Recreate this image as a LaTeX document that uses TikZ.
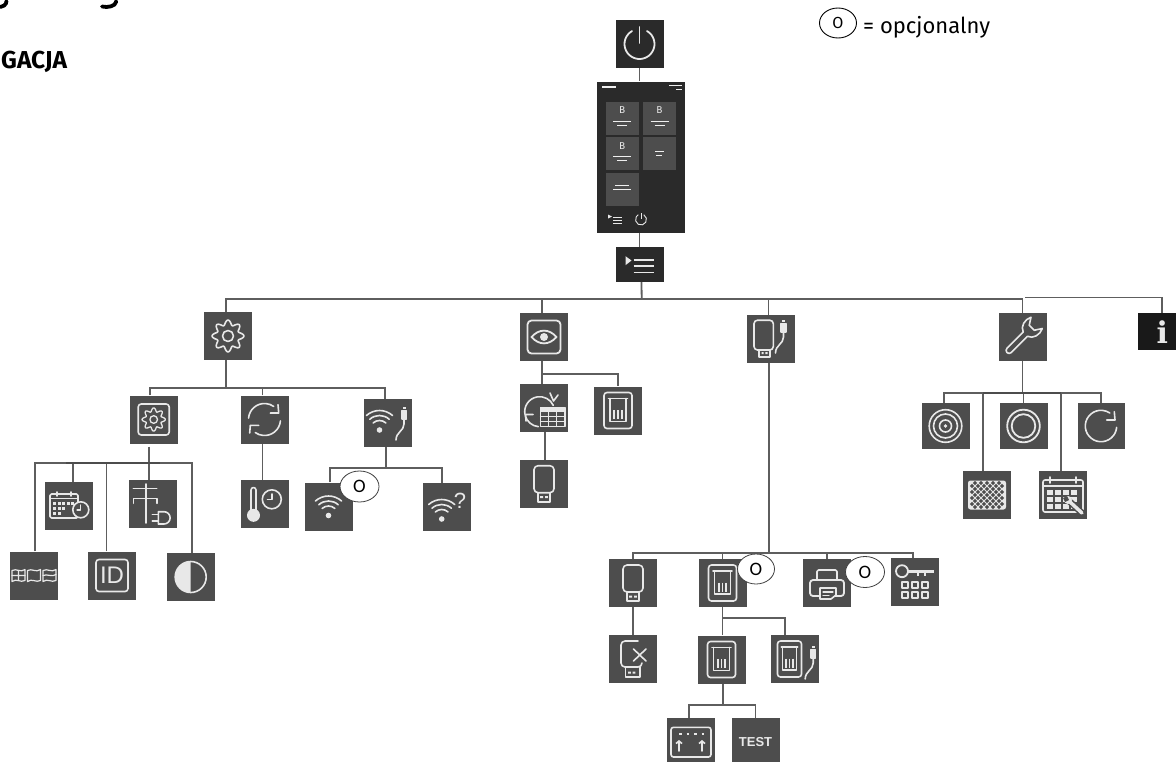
\documentclass[tikz,border=0pt]{standalone}
\usepackage{fontspec}
\setmainfont{Fira Sans}
\newfontfamily\arialfont{Liberation Sans}
\newfontfamily\slabfont{DejaVu Serif}
\newfontfamily\bubblefont{Carlito}
\usetikzlibrary{arrows.meta,shapes.geometric}
\definecolor{boxgray}{HTML}{4D4D4D}
\definecolor{boxdark}{HTML}{2A2A2A}
\definecolor{iconwhite}{HTML}{E8E8E8}
\definecolor{edgegray}{HTML}{5E5E5E}
\tikzset{
	icon_line/.style={draw=iconwhite,line width=1.6pt,line join=round,line cap=round},
	icon_fill/.style={fill=iconwhite,draw=none},
	icon_gear/.pic={
		\draw[icon_line,domain=0:360,samples=145,variable=\t] plot ({(13.5+2.4*cos(8*\t))*cos(\t)},{(13.5+2.4*cos(8*\t))*sin(\t)}) -- cycle;
		\draw[icon_line] (0,0) circle (5.5);
	},
	icon_gearbox/.pic={
		\draw[icon_line,rounded corners=3pt] (-15.5,-15.5) rectangle (15.5,15.5);
		\draw[icon_line,line width=1.3pt,domain=0:360,samples=145,variable=\t] plot ({(9.8+1.8*cos(8*\t))*cos(\t)},{(9.8+1.8*cos(8*\t))*sin(\t)}) -- cycle;
		\draw[icon_line,line width=1.3pt] (0,0) circle (3.8);
	},
	icon_power/.pic={
		\draw[icon_line,line width=1.8pt] (60:15) arc (60:-240:15);
		\draw[icon_line,line width=1.8pt] (0,17) -- (0,1);
	},
	icon_menu/.pic={
		\fill[icon_fill] (-14,8.3) -- (-8,4) -- (-14,-0.7) -- cycle;
		\foreach \y in {4.3,-1.7,-8}
			\draw[icon_line,line width=1.8pt,line cap=butt] (-6,\y) -- (14,\y);
	},
	icon_screen/.pic={
		\foreach \x/\y in {-18.8/38.5,18.5/38.5,-18.8/3.3,18.5/3.3,-18.8/-32}
			\fill[boxgray] (\x-16.5,\y-16.5) rectangle (\x+16.5,\y+16.5);
		\foreach \x/\y in {-18.8/38.5,18.5/38.5,-18.8/3.3}{
			\node[text=iconwhite,inner sep=0,font=\fontsize{10}{10}\selectfont] at (\x,\y+8) {B};
			\draw[iconwhite!70,line width=1pt] (\x-9,\y-3) -- (\x+9,\y-3);
			\draw[iconwhite!70,line width=1pt] (\x-5,\y-7) -- (\x+5,\y-7);
		}
		\draw[iconwhite!70,line width=1pt] (14,6) -- (23,6) (15,2) -- (21,2);
		\draw[iconwhite!70,line width=1pt] (-26,-28) -- (-12,-28) (-28,-32) -- (-10,-32);
		\draw[iconwhite!70,line width=1.1pt] (-39,70) -- (-25,70);
		\draw[iconwhite!70,line width=.9pt] (28,72) -- (41,72) (35,68) -- (41,68);
		\fill[icon_fill] (-33,-57.5) -- (-29,-59.5) -- (-33,-61.5) -- cycle;
		\foreach \y in {-60,-63,-66}
			\draw[iconwhite,line width=1pt] (-28,\y) -- (-19,\y);
		\draw[iconwhite,line width=.9pt] (60:5.5) ++(0,-62.5) arc (60:-240:5.5);
		\draw[iconwhite,line width=.9pt] (0,-56) -- (0,-62);
	},
	icon_refresh/.pic={
		\draw[icon_line] (175:16) arc (175:55:16);
		\draw[icon_line] (13.5,14.8) -- (14.2,6.5) -- (5.8,6.5);
		\draw[icon_line] (-5:16) arc (-5:-125:16);
		\draw[icon_line] (-14.8,-13.5) -- (-14.2,-5.8) -- (-5.8,-5.8);
	},
	icon_thermo/.pic={
		\draw[icon_line] (-13.5,-7) -- (-13.5,14) arc (180:0:2.5) -- (-8.5,-7);
		\fill[icon_fill] (-11,-11.3) circle (6.5);
		\draw[icon_line] (7.3,4.7) circle (9.5);
		\draw[icon_line] (7.3,10) -- (7.3,4.5) -- (3,4.5);
	},
	icon_tower/.pic={
		\draw[icon_line] (-7.3,20) -- (-7.3,-19);
		\draw[icon_line] (-19.7,15.7) -- (3.7,15.7);
		\draw[icon_line] (-19.7,0.7) -- (-19.7,5.7) -- (3.7,5.7) -- (3.7,0.7);
		\draw[icon_line] (5.3,-7.7) -- (11,-7.7) arc (90:-90:6.15) -- (5.3,-20) -- cycle;
		\draw[icon_line] (-0.7,-10.5) -- (5.3,-10.5) (-0.7,-16.7) -- (5.3,-16.7);
	},
	icon_calclock/.pic={
		\draw[icon_line,rounded corners=1.5pt] (-19,12) rectangle (9,-12);
		\draw[icon_line] (-19,7.5) -- (9,7.5);
		\draw[icon_line] (-12,14) -- (-12,10) (2,14) -- (2,10);
		\foreach \x/\y in {-16/4,-11.5/4,-7/4,-2.5/4,2/4,-16/-1,-11.5/-1,-7/-1,-16/-6,-11.5/-6}
			\fill[icon_fill] (\x,\y) rectangle (\x+3,\y-3);
		\draw[icon_line,fill=boxgray] (11.8,-3.8) circle (8);
		\draw[icon_line,line width=1.1pt] (11.8,1) -- (11.8,-4) -- (8,-4);
	},
	icon_flags/.pic={
		\foreach \x in {-15.5,0,15.5}{
			\draw[icon_line,line width=1.2pt] (\x-6.5,5) .. controls (\x-2,7.5) and (\x+2,2.5) .. (\x+6.5,6) -- (\x+6.5,-5) .. controls (\x+2,-7.5) and (\x-2,-2.5) .. (\x-6.5,-6) -- cycle;
		}
		\draw[icon_line,line width=1.2pt] (-22,0) -- (-9,0) (-15.5,5) -- (-15.5,-5) (9,0) .. controls (13,2) and (18,-2) .. (22,1);
	},
	icon_idbox/.pic={
		\draw[icon_line,rounded corners=3pt] (-16,-16) rectangle (16,16);
	},
	icon_contrast/.pic={
		\draw[icon_line] (0,0) circle (15.5);
		\fill[icon_fill] (0,15.5) arc (90:270:15.5) -- cycle;
	},
	icon_wifibase/.pic={
		\fill[icon_fill] (0,0) circle (2.8);
		\foreach \r in {9.5,14.5,19.5}
			\draw[icon_line] (48:\r) arc (48:132:\r);
	},
	icon_plug/.pic={
		\fill[icon_fill] (-1.5,0) rectangle (1.5,-2);
		\draw[icon_line,fill=iconwhite] (-2.3,-3.5) rectangle (2.3,-12);
		\draw[icon_line] (0,-12) -- (0,-17) .. controls (0,-24) and (-8,-25) .. (-8,-33);
	},
	icon_wifiusb/.pic={
		\pic at (-8.5,-7) {icon_wifibase};
		\pic at (16,16) {icon_plug};
	},
	icon_wifiq/.pic={
		\pic at (-5.3,-12) {icon_wifibase};
		\node[text=iconwhite,inner sep=0,font=\arialfont\fontsize{22}{22}\selectfont] (qmark) at (13,6) {?};
	},
	icon_eye/.pic={
		\draw[icon_line,line width=1.8pt,rounded corners=4pt] (-16.5,-16.5) rectangle (16.5,16.5);
		\draw[icon_line,line width=1.8pt] (-12.5,0) .. controls (-5,8.5) and (5,8.5) .. (12.5,0) .. controls (5,-8.5) and (-5,-8.5) .. cycle;
		\fill[icon_fill] (0,0) circle (4);
	},
	icon_sync/.pic={
		\draw[icon_line] (-4.3,-3.7) ++(190:15) arc (190:25:15);
		\draw[icon_line] (6,15) -- (9.5,7) -- (14,13);
		\draw[icon_line] (-4.3,-3.7) ++(265:15) arc (265:195:15);
		\draw[icon_line] (-18,-13) -- (-18.5,-6.5) -- (-11,-6.5);
		\draw[icon_line,fill=boxgray,line width=1.1pt] (-3.5,0.5) rectangle (21,-18.5);
		\fill[icon_fill] (-3.5,0.5) rectangle (21,-4);
		\draw[icon_line,line width=1.1pt] (-3.5,-8.5) -- (21,-8.5) (-3.5,-13.5) -- (21,-13.5) (4.5,-4) -- (4.5,-18.5) (12.5,-4) -- (12.5,-18.5);
	},
	icon_cardbase/.pic={
		\draw[icon_line,rounded corners=3pt] (-14,-18) rectangle (14,18);
		\draw[icon_line] (-9.5,12) -- (9.5,12);
		\draw[icon_line] (-8,12) -- (-8,-11) -- (8,-11) -- (8,12);
		\foreach \x in {-3.7,0,3.7}
			\draw[icon_line,line width=1.7pt,line cap=butt] (\x,0.5) -- (\x,-8.5);
	},
	icon_cardusb/.pic={
		\pic[xscale=.86] at (-5,0) {icon_cardbase};
		\pic at (18.7,13) {icon_plug};
	},
	icon_usbbase/.pic={
		\draw[icon_line,rounded corners=4pt] (-10,-9) rectangle (10,18);
		\draw[icon_line] (-6,-9) -- (-6,-18) -- (6,-18) -- (6,-9);
		\fill[icon_fill] (-3.8,-12.5) rectangle (-1,-14.5) (1,-12.5) rectangle (3.8,-14.5);
	},
	icon_usbcable/.pic={
		\draw[icon_line,rounded corners=3.5pt] (-16.5,-11) rectangle (2.8,18.8);
		\draw[icon_line] (-11.5,-11) -- (-11.5,-18) -- (-0.5,-18) -- (-0.5,-11);
		\fill[icon_fill] (-9,-13) rectangle (-6.8,-15) (-5.2,-13) rectangle (-3,-15);
		\pic at (13,19) {icon_plug};
	},
	icon_usbx/.pic={
		\draw[icon_line,rounded corners=4pt] (5,18) -- (-12,18) -- (-12,-8) -- (9,-8) -- (9,-4);
		\draw[icon_line] (-7.7,-8) -- (-7.7,-18) -- (6.7,-18) -- (6.7,-8);
		\fill[icon_fill] (-5,-12.5) rectangle (-2.2,-14.5) (-0.5,-12.5) rectangle (2.3,-14.5);
		\draw[icon_line] (0.5,-2) -- (13,10) (13,-2) -- (0.5,10);
	},
	icon_printer/.pic={
		\draw[icon_line,line width=1.8pt,rounded corners=3pt] (-17,-13) rectangle (17,3);
		\draw[icon_line,rounded corners=1.5pt] (-10,3) -- (-10,13) -- (10,13) -- (10,3);
		\draw[icon_line,line width=1.6pt,fill=boxgray] (-7,-5) -- (9,-5) -- (9,-12) -- (4,-16) -- (-7,-16) -- cycle;
		\draw[icon_line,line width=1.1pt] (-4,-9) -- (6,-9) (-4,-12.5) -- (2,-12.5);
	},
	icon_keypad/.pic={
		\draw[icon_line,line width=1.8pt] (-13,10.8) circle (6);
		\draw[icon_line,line width=2.8pt,line cap=butt] (-7,10.8) -- (19,10.8);
		\draw[icon_line,line width=1.8pt,line cap=butt] (3,9) -- (3,6) (10,9) -- (10,6);
		\foreach \x in {-10,0,10} \foreach \y in {-3,-13}
			\draw[icon_line] (\x-3,\y-3) rectangle (\x+3,\y+3);
	},
	icon_upload/.pic={
		\draw[icon_line,rounded corners=2.5pt] (-20,-15) rectangle (20,14.7);
		\foreach \x in {-12,-4.5,3,10.5}
			\draw[icon_line,line width=1.1pt,line cap=butt] (\x,8) -- (\x+2.5,8);
		\foreach \x in {-12,11}
			\draw[icon_line,-{Straight Barb[length=2.5pt,width=6pt]}] (\x,-9) -- (\x,2);
	},
	icon_wrench/.pic={
		\begin{scope}[rotate=45]
			\draw[icon_line] (-19,3) -- (4,3) .. controls (6,9) and (14,11) .. (20,8) -- (13,3.5) -- (13,-3.5) -- (20,-8) .. controls (14,-11) and (6,-9) .. (4,-3) -- (-19,-3) arc (270:90:3) -- cycle;
		\end{scope}
	},
	icon_ringdot/.pic={
		\foreach \r in {16.3,12}
			\draw[icon_line] (0,0) circle (\r);
		\draw[icon_line] (0,0) circle (6);
		\fill[icon_fill] (0,0) circle (1.8);
	},
	icon_ring/.pic={
		\foreach \r in {16.3,11.8}
			\draw[icon_line,line width=1.8pt] (0,0) circle (\r);
	},
	icon_circarrow/.pic={
		\draw[icon_line] (-5:15.7) arc (-5:-304:15.7);
		\draw[icon_line] (13.3,14.3) -- (14,6) -- (5.7,6);
	},
	icon_mesh/.pic={
		\fill[icon_fill,rounded corners=2.5pt] (-19,-14.5) rectangle (19,14.5);
		\foreach \x in {-15,-9,-3,3,9,15} \foreach \y in {-9,-3,3,9}
			\fill[boxgray] (\x-2.2,\y) -- (\x,\y+2.2) -- (\x+2.2,\y) -- (\x,\y-2.2) -- cycle;
		\foreach \x in {-12,-6,0,6,12} \foreach \y in {-12,-6,0,6,12}
			\fill[boxgray] (\x-2.2,\y) -- (\x,\y+2.2) -- (\x+2.2,\y) -- (\x,\y-2.2) -- cycle;
	},
	icon_calwrench/.pic={
		\draw[icon_line,rounded corners=2pt] (-20,-17) rectangle (20,15);
		\draw[icon_line] (-20,9) -- (20,9);
		\draw[icon_line] (-13,18) -- (-13,12) (13,18) -- (13,12);
		\foreach \x in {-16,-8,0,8} \foreach \y in {5,-2,-9}
			\fill[icon_fill] (\x,\y) rectangle (\x+6,\y-5);
		\draw[boxgray,line width=6.5pt,line cap=round] (6,-6) -- (19,-18);
		\draw[iconwhite,line width=3.5pt,line cap=round] (6,-6) -- (19,-18);
		\fill[iconwhite] (5,-5) circle (4);
		\fill[boxgray] (4,-1) -- (6,-5) -- (2,-7) -- (0,-3) -- cycle;
	}
}

\begin{document}
\begin{tikzpicture}[x=1pt, y=1pt,
		node_style/.style={rectangle,fill=boxgray,minimum size=48pt,inner sep=0pt},
		node_style1/.style={rectangle,fill=boxdark,minimum size=48pt,inner sep=0pt},
		opt_style/.style={ellipse,draw=black!75,fill=white,line width=.8pt,minimum width=39pt,minimum height=31pt,inner sep=0pt,font=\bubblefont\fontsize{19}{19}\selectfont},
		edge_style/.style={draw=edgegray,line width=1.8pt},
		edge_dark/.style={draw=black!70,line width=1.8pt}]

		\useasboundingbox (0,-761) rectangle (1176,0);
		\clip (0,-761) rectangle (1176,0);

		\node[node_style1] (n0) at (639.5,-44)  {};
		\node[node_style1,minimum width=88pt,minimum height=151pt] (n1) at (641,-157)  {};
		\node[node_style1,minimum height=35pt] (n2) at (639.5,-264.5)  {};
		\node[node_style] (n3) at (228,-336)  {};
		\node[node_style] (n4) at (544,-337)  {};
		\node[node_style] (n5) at (770.5,-339)  {};
		\node[node_style] (n6) at (1022.5,-337)  {};
		\node[node_style1,minimum height=37pt,fill=black!90] (n7) at (1162.3,-331.7)  {};
		\node[node_style] (n8) at (153.7,-419.5)  {};
		\node[node_style] (n9) at (264.5,-419.5)  {};
		\node[node_style] (n10) at (388,-423)  {};
		\node[node_style] (n11) at (69,-506)  {};
		\node[node_style] (n12) at (153,-504)  {};
		\node[node_style] (n13) at (34,-575.5)  {};
		\node[node_style,text=iconwhite,font=\arialfont\fontsize{24}{24}\selectfont] (n14) at (112,-575.5)  {ID};
		\node[node_style] (n15) at (190.7,-577)  {};
		\node[node_style] (n16) at (264.5,-504)  {};
		\node[node_style] (n17) at (328.5,-506.5)  {};
		\node[node_style] (n18) at (447,-507)  {};
		\node[node_style] (n19) at (544,-408)  {};
		\node[node_style] (n20) at (618,-410.5)  {};
		\node[node_style] (n21) at (544,-483.7)  {};
		\node[node_style] (n22) at (633,-583)  {};
		\node[node_style] (n23) at (722.5,-583)  {};
		\node[node_style] (n24) at (827,-583)  {};
		\node[node_style] (n25) at (915,-582)  {};
		\node[node_style] (n26) at (633,-659)  {};
		\node[node_style] (n27) at (721.5,-659.5)  {};
		\node[node_style] (n28) at (794.5,-659)  {};
		\node[node_style] (n29) at (691,-742)  {};
		\node[node_style,text=iconwhite,font=\arialfont\bfseries\fontsize{13}{13}\selectfont] (n30) at (755.5,-742)  {TEST};
		\node[node_style,minimum height=46pt] (n31) at (945.5,-426)  {};
		\node[node_style,minimum height=46pt] (n32) at (1023.5,-426)  {};
		\node[node_style,minimum height=46pt,minimum width=47pt] (n33) at (1101,-426)  {};
		\node[node_style] (n34) at (987,-495)  {};
		\node[node_style] (n35) at (1063,-495)  {};

		\node[text=iconwhite,inner sep=0pt,font=\slabfont\bfseries\fontsize{30}{30}\selectfont] (n7i) at (n7) {i};

		\pic at (n0) {icon_power};
		\pic at (n1) {icon_screen};
		\pic at (n2) {icon_menu};
		\pic at (n3) {icon_gear};
		\pic at (n4) {icon_eye};
		\pic at (n5) {icon_usbcable};
		\pic at (n6) {icon_wrench};
		\pic at (n8) {icon_gearbox};
		\pic at (n9) {icon_refresh};
		\pic at (n10) {icon_wifiusb};
		\pic at (n11) {icon_calclock};
		\pic at (n12) {icon_tower};
		\pic at (n13) {icon_flags};
		\pic at (n14) {icon_idbox};
		\pic at (n15) {icon_contrast};
		\pic at (n16) {icon_thermo};
		\pic at ([yshift=-9pt]n17) {icon_wifibase};
		\pic at (n18) {icon_wifiq};
		\pic at (n19) {icon_sync};
		\pic at (n20) {icon_cardbase};
		\pic at (n21) {icon_usbbase};
		\pic at (n22) {icon_usbbase};
		\pic at (n23) {icon_cardbase};
		\pic at (n24) {icon_printer};
		\pic at (n25) {icon_keypad};
		\pic at (n26) {icon_usbx};
		\pic at (n27) {icon_cardbase};
		\pic at (n28) {icon_cardusb};
		\pic at (n29) {icon_upload};
		\pic at (n31) {icon_ringdot};
		\pic at (n32) {icon_ring};
		\pic at (n33) {icon_circarrow};
		\pic at (n34) {icon_mesh};
		\pic at (n35) {icon_calwrench};

		\coordinate (j0) at (641.7,-299);
		\coordinate (j1) at (1025,-297.5);
		\coordinate (j2) at (226,-388);
		\coordinate (j3) at (149,-463);
		\coordinate (j4) at (386.3,-468);
		\coordinate (j5) at (542,-374);
		\coordinate (j6) at (769,-553.3);
		\coordinate (j7) at (722.5,-618.3);
		\coordinate (j8) at (723,-705);
		\coordinate (j9) at (1022.5,-393.3);

		\draw[edge_style]  (n0.south) -- (n0.south |- n1.north);
		\draw[edge_style]  (n2.north |- n1.south) -- (n2.north);
		\draw[edge_style]  ([xshift=2pt]n2.south) -- (j0);
		\draw[edge_style]  ([xshift=-2pt]n3.north) |- (j0) -| (n6.north);
		\draw[edge_style]  ([xshift=-2pt]n4.north) |- (j0);
		\draw[edge_style]  ([xshift=-2pt]n5.north) |- (j0);
		\draw[edge_style]  (j1) -| (n7.north);
		\draw[edge_style]  ([xshift=-2pt]n3.south) -- (j2);
		\draw[edge_style]  ([xshift=-4pt]n8.north) |- (j2) -| ([xshift=-3pt]n10.north);
		\draw[edge_style]  ([xshift=-2pt]n9.north) |- (j2);
		\draw[edge_style]  ([xshift=-4.7pt,yshift=-3pt]n8.south) -- ([xshift=-4pt]n12.north);
		\draw[edge_style]  ([xshift=1pt]n13.north) |- (j3) -| ([xshift=1pt]n15.north);
		\draw[edge_style]  ([xshift=4pt]n11.north) |- (j3);
		\draw[edge_style]  ([xshift=-5.5pt]n14.north) |- (j3);
		\draw[edge_dark]  ([xshift=-83pt]j3) -- ([xshift=11pt]j3);
		\draw[edge_style]  ([xshift=-2pt]n9.south) -- ([xshift=-2pt]n16.north);
		\draw[edge_style]  ([xshift=-1.7pt]n10.south) -- (j4);
		\draw[edge_style]  ([xshift=1.5pt]n17.north) |- (j4) -| ([xshift=-5.3pt]n18.north);
		\draw[edge_style]  ([xshift=-2pt]n4.south) -- ([xshift=-2pt]n19.north);
		\draw[edge_style]  (j5) -| (n20.north);
		\draw[edge_style]  ([xshift=1.3pt]n19.south) -- ([xshift=1.3pt]n21.north);
		\draw[edge_style]  ([xshift=-1.5pt]n5.south) -- (j6);
		\draw[edge_style]  (n22.north) |- (j6) -| ([xshift=-2.3pt]n25.north);
		\draw[edge_style]  (n23.north) |- (j6);
		\draw[edge_style]  (n24.north) |- (j6);
		\draw[edge_style]  (n22.south) -- (n26.north);
		\draw[edge_style]  (n23.south) -- (n23.south |- n27.north);
		\draw[edge_style]  (j7) -| ([xshift=-9.8pt]n28.north);
		\draw[edge_style]  ([xshift=1.5pt]n27.south) -- (j8);
		\draw[edge_style]  ([xshift=-1.7pt]n29.north) |- (j8) -| (n30.north);
		\draw[edge_style]  (n6.south) -- (j9);
		\draw[edge_style]  ([xshift=-1.5pt]n31.north) |- (j9) -| (n33.north);
		\draw[edge_style]  (n32.north) |- (j9);
		\draw[edge_style]  ([xshift=-3.7pt]n34.north) |- (j9);
		\draw[edge_style]  ([xshift=-1.7pt]n35.north) |- (j9);
		\draw[edge_dark]  ([xshift=-39.2pt]j9) -- ([xshift=38.8pt]j9);

		\node[opt_style] (n36) at (359.5,-486.5)  {O};
		\node[opt_style,minimum width=37pt,minimum height=30pt] (n37) at (756,-569)  {O};
		\node[opt_style] (n38) at (865,-572)  {O};
		\node[ellipse,draw=black,fill=white,line width=.9pt,minimum width=37pt,minimum height=30pt,inner sep=0pt,font=\fontsize{16}{16}\selectfont] (n39) at (838,-23)  {O};

		\node[anchor=base west,inner sep=0pt,font=\fontsize{22}{24}\selectfont] (t0) at (863,-33)  {= opcjonalny};
		\node[anchor=base west,inner sep=0pt,font=\bfseries\fontsize{24.5}{26}\selectfont] (t1) at (1,-68)  {GACJA};

		\draw[line width=3.8pt,line cap=round] (6.5,-1) .. controls (6.5,-5) and (3,-7) .. (-2,-7);
		\draw[line width=3.8pt,line cap=round] (116,-1) -- (116,-2) .. controls (115.5,-6) and (108,-8) .. (102,-6.5);
\end{tikzpicture}
\end{document}
